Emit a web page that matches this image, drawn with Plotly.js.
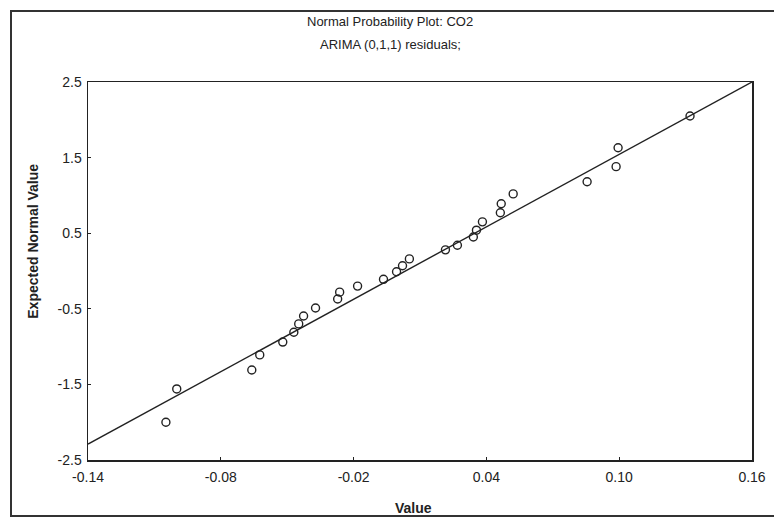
<!DOCTYPE html>
<html>
<head>
<meta charset="utf-8">
<script src="https://cdn.plot.ly/plotly-3.0.1.min.js"></script>
<style>
  html, body { margin: 0; padding: 0; background: #ffffff; }
  #chart { width: 774px; height: 520px; position: relative; }
  #frame { position: absolute; left: 10px; top: 10px; width: 770px; height: 507px;
           border: 2px solid #333; border-right: none; pointer-events: none; box-sizing: border-box; }
</style>
</head>
<body>
<div id="chart"></div>
<div id="frame"></div>
<script>
// Observed residual values (x) and expected normal values (y)
const residualValues = [-0.1048, -0.0999, -0.0660, -0.0624, -0.0520, -0.0470, -0.0448, -0.0426,
  -0.0372, -0.0272, -0.0263, -0.0182, -0.0065, -0.0006, 0.0021, 0.0052,
  0.0215, 0.0269, 0.0341, 0.0355, 0.0382, 0.0463, 0.0467, 0.0521,
  0.0855, 0.0986, 0.0995, 0.1320];
const expectedNormal = [-2.00, -1.56, -1.31, -1.11, -0.94, -0.81, -0.70, -0.595,
  -0.49, -0.37, -0.28, -0.20, -0.11, -0.01, 0.07, 0.16,
  0.28, 0.34, 0.45, 0.54, 0.65, 0.77, 0.89, 1.02,
  1.18, 1.38, 1.63, 2.05];
// Reference line endpoints
const lineX = [-0.14, 0.16];
const lineY = [-2.29, 2.50];
// Tick labels
const xTickVals = [-0.14, -0.08, -0.02, 0.04, 0.10, 0.16];
const xTickText = ["-0.14", "-0.08", "-0.02", "0.04", "0.10", "0.16"];
const yTickVals = [2.5, 1.5, 0.5, -0.5, -1.5, -2.5];
const yTickText = ["2.5", "1.5", "0.5", "-0.5", "-1.5", "-2.5"];
// Titles
const titleLine1 = "Normal Probability Plot: CO2";
const titleLine2 = "ARIMA (0,1,1) residuals;";
const xTitle = "Value";
const yTitle = "Expected Normal Value";

const fam = "Liberation Sans, Arial, sans-serif";
const titleFont = { family: fam, size: 13, color: "#222" };
const tickFont = { family: fam, size: 14, color: "#222" };
const axisTitleFont = { family: fam, size: 14, color: "#222", weight: "bold" };

const traces = [
  {
    x: lineX, y: lineY, type: "scatter", mode: "lines",
    line: { color: "#222", width: 1.4 }, hoverinfo: "skip", showlegend: false
  },
  {
    x: residualValues, y: expectedNormal, type: "scatter", mode: "markers",
    marker: { symbol: "circle-open", size: 8, color: "#222", line: { width: 1.4, color: "#222" } },
    showlegend: false
  }
];

const layout = {
  width: 774, height: 520,
  margin: { l: 88, r: 22, t: 82, b: 60 },
  paper_bgcolor: "#ffffff", plot_bgcolor: "#ffffff",
  xaxis: {
    range: [-0.14, 0.16], tickvals: xTickVals, ticktext: xTickText,
    showgrid: false, zeroline: false, showline: true, mirror: true,
    linecolor: "#222", linewidth: 1.5, ticks: "inside", ticklen: 3, tickcolor: "#222",
    tickfont: tickFont, ticklabelstandoff: 4
  },
  yaxis: {
    range: [-2.5, 2.5], tickvals: yTickVals, ticktext: yTickText,
    showgrid: false, zeroline: false, showline: true, mirror: true,
    linecolor: "#222", linewidth: 1.5, ticks: "inside", ticklen: 3, tickcolor: "#222",
    tickfont: tickFont, ticklabelstandoff: 2
  },
  annotations: [
    { text: titleLine1, xref: "paper", yref: "paper", x: 0.455, y: 1.159,
      xanchor: "center", yanchor: "middle", showarrow: false, font: titleFont },
    { text: titleLine2, xref: "paper", yref: "paper", x: 0.455, y: 1.098,
      xanchor: "center", yanchor: "middle", showarrow: false, font: titleFont },
    { text: xTitle, xref: "paper", yref: "paper", x: 0.49, y: -0.127,
      xanchor: "center", yanchor: "middle", showarrow: false, font: axisTitleFont },
    { text: yTitle, textangle: -90, xref: "paper", yref: "paper", x: -0.084, y: 0.578,
      xanchor: "center", yanchor: "middle", showarrow: false, font: axisTitleFont }
  ]
};

Plotly.newPlot("chart", traces, layout, { displayModeBar: false, staticPlot: true });
</script>
</body>
</html>
